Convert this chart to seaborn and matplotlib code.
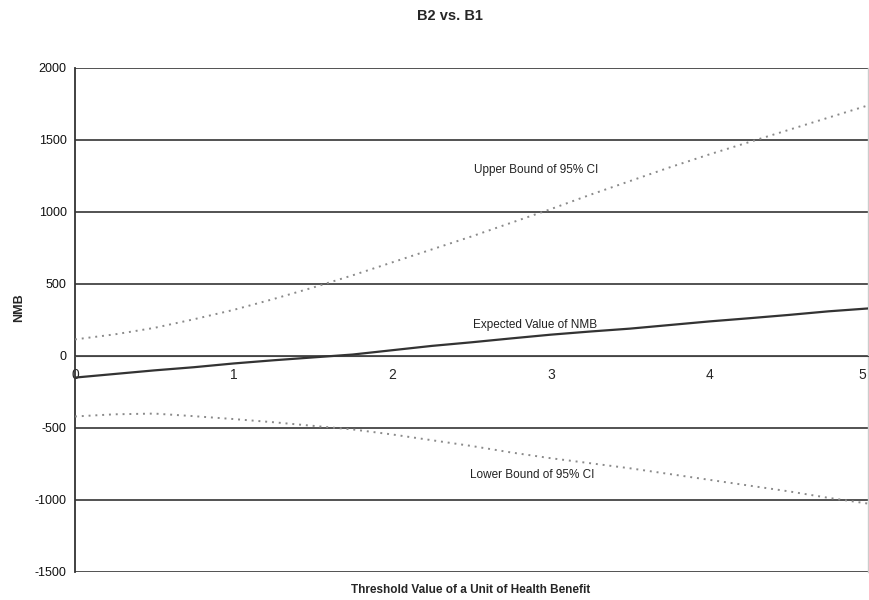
import numpy as np
import pandas as pd
import matplotlib
matplotlib.use("Agg")
import matplotlib.pyplot as plt
import matplotlib.transforms as mtransforms
import seaborn as sns

# threshold values (x) and the three NMB curves
threshold = [0, 0.25, 0.5, 0.75, 1, 1.25, 1.5, 1.75, 2, 2.25, 2.5,
             2.75, 3, 3.25, 3.5, 3.75, 4, 4.25, 4.5, 4.75, 5]
upper_ci = [115, 150, 195, 255, 320, 395, 475, 560, 650, 740, 830,
            925, 1020, 1120, 1215, 1310, 1400, 1485, 1570, 1655, 1740]
expected = [-150, -125, -100, -78, -52, -30, -10, 10, 40, 70, 95,
            122, 148, 170, 190, 215, 240, 262, 285, 310, 330]
lower_ci = [-420, -405, -400, -418, -438, -460, -485, -510, -545, -585, -625,
            -670, -710, -745, -780, -820, -860, -900, -940, -985, -1025]

y_ticks = [-1500, -1000, -500, 0, 500, 1000, 1500, 2000]
x_ticks = [0, 1, 2, 3, 4, 5]

df = pd.DataFrame({"x": threshold, "upper": upper_ci,
                   "expected": expected, "lower": lower_ci})

sns.set_style("white")
plt.rcParams["font.family"] = ["Liberation Sans", "DejaVu Sans"]

fig = plt.figure(figsize=(8.7, 6), dpi=100)
ax = fig.add_axes([0.0862, 0.0467, 0.9115, 0.84])

# horizontal grid lines
for yv in y_ticks:
    ax.axhline(yv, color="#444444", lw=1.3, zorder=1)

sns.lineplot(data=df, x="x", y="upper", ax=ax, color="#8a8a8a", lw=1.4,
             linestyle=(0, (1, 2.5)), zorder=3)
sns.lineplot(data=df, x="x", y="expected", ax=ax, color="#333333", lw=1.6,
             zorder=3)
sns.lineplot(data=df, x="x", y="lower", ax=ax, color="#8a8a8a", lw=1.4,
             linestyle=(0, (1, 2.5)), zorder=3)

# curve labels
ax.text(2.91, 1290, "Upper Bound of 95% CI", ha="center", va="center", fontsize=8.5, color="#222222")
ax.text(2.9, 215, "Expected Value of NMB", ha="center", va="center", fontsize=8.5, color="#222222")
ax.text(2.88, -825, "Lower Bound of 95% CI", ha="center", va="center", fontsize=8.5, color="#222222")

ax.set_xlim(0, 5)
ax.set_ylim(-1500, 2000)
ax.set_yticks(y_ticks)
ax.set_yticklabels([str(v) for v in y_ticks], fontsize=9, color="#111111")
ax.set_xticks(x_ticks)
ax.set_xticklabels([str(v) for v in x_ticks], fontsize=10, fontweight="bold")

# x axis sits on y = 0
ax.spines["bottom"].set_position(("data", 0))
ax.spines["bottom"].set_color("#444444")
ax.spines["top"].set_visible(False)
ax.spines["right"].set_color("#cccccc")
ax.spines["right"].set_linewidth(1.0)
ax.spines["left"].set_color("#333333")
ax.spines["left"].set_linewidth(1.3)
ax.tick_params(axis="y", direction="out", length=4, width=1, color="#333333", pad=2)
ax.tick_params(axis="x", direction="out", length=3, width=1, color="#555555", pad=6)

# nudge the last x label so it stays inside the figure
last = ax.xaxis.get_major_ticks()[-1].label1
last.set_transform(last.get_transform() +
                   mtransforms.ScaledTranslation(-4 / 72, 0, fig.dpi_scale_trans))

ax.set_xlabel("")
ax.set_ylabel("")
fig.text(0.022, 0.488, "NMB", rotation=90, ha="center", va="center",
         fontsize=9, fontweight="bold")
fig.text(0.541, 0.017, "Threshold Value of a Unit of Health Benefit",
         ha="center", va="center", fontsize=8.5, fontweight="bold")
fig.text(0.517, 0.973, "B2 vs. B1", ha="center", va="center",
         fontsize=10.5, fontweight="bold")

fig.savefig("out.png", dpi=100)
